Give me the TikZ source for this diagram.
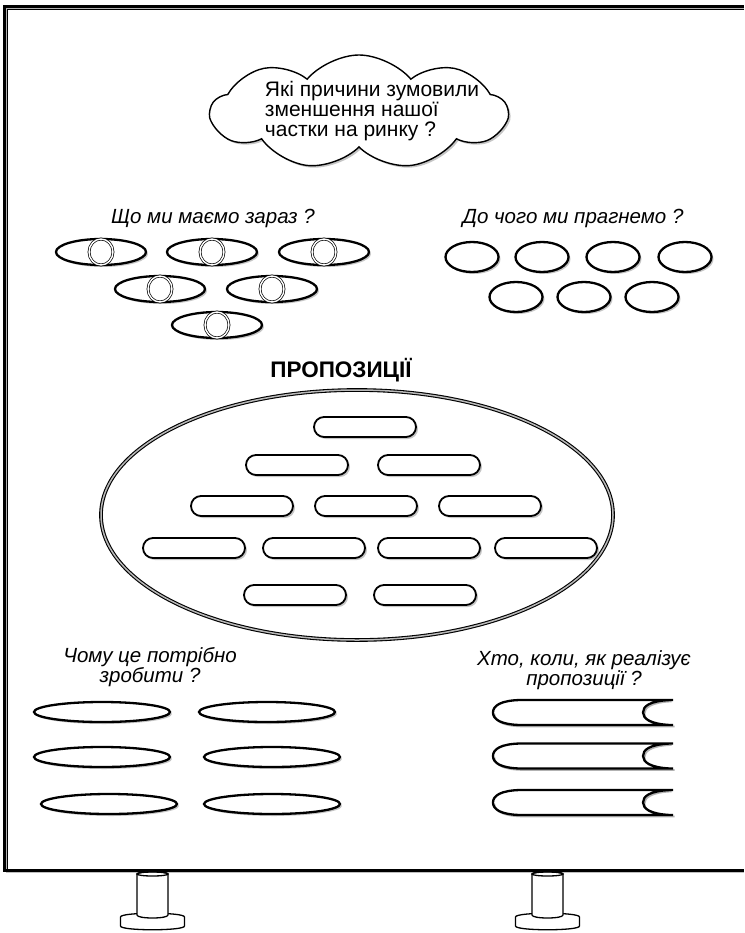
\documentclass[tikz,border=0pt]{standalone}
\usepackage{fontspec}
\setmainfont{Liberation Sans}
\usepackage{tikz}
\usetikzlibrary{shapes.geometric, shapes.misc, shapes.symbols, shadows}

% pen-nib shaped slot, #1 = left tip x, #2 = middle y
\newcommand{\nibslot}[2]{%
  \draw[gray!60, line width=1.6pt, shift={(1.5,1.5)}]
    (#1+177,#2-12.5) .. controls (#1+156,#2-11.5) and (#1+150,#2-6) .. (#1+150,#2)
      .. controls (#1+150,#2+6) and (#1+157,#2+11.5) .. (#1+177,#2+12.5)
    (#1,#2) .. controls (#1,#2+7) and (#1+8,#2+12) .. (#1+27,#2+12.5) -- (#1+180,#2+12.5);
  \draw[line width=2.3pt]
    (#1+180,#2-12.5) -- (#1+27,#2-12.5)
      .. controls (#1+8,#2-12) and (#1,#2-7) .. (#1,#2)
      .. controls (#1,#2+7) and (#1+8,#2+12) .. (#1+27,#2+12.5) -- (#1+180,#2+12.5)
    (#1+177,#2-12.5) .. controls (#1+156,#2-11.5) and (#1+150,#2-6) .. (#1+150,#2)
      .. controls (#1+150,#2+6) and (#1+157,#2+11.5) .. (#1+177,#2+12.5);
}

% one leg under the board, #1 = centre x
\newcommand{\boardleg}[1]{%
  \filldraw[fill=white, line width=1.3pt] (#1-32,917) -- (#1-32,926)
    .. controls (#1-32,931) and (#1+32,931) .. (#1+32,926) -- (#1+32,917)
    .. controls (#1+32,912) and (#1-32,912) .. cycle;
  \filldraw[fill=white, line width=1.3pt] (#1-15.5,874) -- (#1-15.5,915)
    .. controls (#1-15.5,919) and (#1+15.5,919) .. (#1+15.5,915) -- (#1+15.5,874)
    .. controls (#1+15.5,871) and (#1-15.5,871) .. cycle;
  \draw[line width=1.3pt] (#1,874) ellipse [x radius=15.5, y radius=2];
}

\begin{document}
\begin{tikzpicture}[
    x=1pt, y=-1pt,
    every node/.style={font=\fontsize{21}{20}\selectfont, align=center},
    heading/.style={font=\fontsize{20.5}{19}\selectfont\itshape},
    shade/.style={drop shadow={shadow xshift=2pt, shadow yshift=-2pt, fill=black!45}},
    eye/.style={ellipse, draw, line width=2.3pt, fill=white, shade,
                minimum width=90pt, minimum height=26pt, inner sep=0pt},
    iris/.style={ellipse, draw, double, line width=0.7pt, double distance=1.4pt,
                 minimum width=24pt, minimum height=26pt, inner sep=0pt},
    goal/.style={ellipse, draw, line width=2.3pt, fill=white, shade,
                 minimum width=53pt, minimum height=30pt, inner sep=0pt},
    idea/.style={rounded rectangle, draw, line width=1.8pt, fill=white, shade,
                 minimum width=102pt, minimum height=20pt, inner sep=0pt},
    reason/.style={ellipse, draw, line width=2.3pt, fill=white, shade,
                   minimum width=136pt, minimum height=20pt, inner sep=0pt}
]
\useasboundingbox (0,0) rectangle (744,933);

% --- Board ---
\draw[line width=3pt] (744,6.5) -- (4.5,6.5) -- (4.5,870.5) -- (744,870.5);
\draw[gray!60, line width=1pt] (744,8.6) -- (6.6,8.6) -- (6.6,869);
\draw[line width=0.8pt] (744,9.6) -- (7.6,9.6) -- (7.6,869);
\draw[gray!50, line width=1pt] (6,872.5) -- (744,872.5);
\boardleg{152.5}
\boardleg{547.5}

% --- Question cloud ---
\node[cloud, cloud puffs=9, cloud puff arc=100, aspect=2.6, draw, line width=1.4pt, fill=white, shade,
      minimum width=296pt, minimum height=114pt] (cloud) at (359,112) {};
\node[align=left] (question) at (372,111) {Які причини зумовили\\зменшення нашої\\частки на ринку ?};

% --- What we have ---
\node[heading] (havetitle) at (213,218) {Що ми маємо зараз ?};
\node[eye] (have1) at (101,252) {};  \node[iris] (iris1) at (have1) {};
\node[eye] (have2) at (212,252) {};  \node[iris] (iris2) at (have2) {};
\node[eye] (have3) at (324,252) {};  \node[iris] (iris3) at (have3) {};
\node[eye] (have4) at (160,289) {};  \node[iris] (iris4) at (have4) {};
\node[eye] (have5) at (272,289) {};  \node[iris] (iris5) at (have5) {};
\node[eye] (have6) at (217,325) {};  \node[iris] (iris6) at (have6) {};

% --- What we aim at ---
\node[heading] (wanttitle) at (573,218) {До чого ми прагнемо ?};
\node[goal] (want1) at (472,257) {};
\node[goal] (want2) at (542,257) {};
\node[goal] (want3) at (613,257) {};
\node[goal] (want4) at (685,257) {};
\node[goal] (want5) at (516,297) {};
\node[goal] (want6) at (584,297) {};
\node[goal] (want7) at (652,297) {};

% --- Proposals ---
\node[font=\fontsize{22.5}{22}\selectfont\bfseries] (proptitle) at (341,370) {ПРОПОЗИЦІЇ};
\node[ellipse, draw, double=gray!55, line width=1.1pt, double distance=1.5pt,
      minimum width=512pt, minimum height=250pt] (props) at (357,515) {};
\node[idea] (prop1) at (365,427) {};
\node[idea] (prop2) at (297,465) {};
\node[idea] (prop3) at (429,465) {};
\node[idea] (prop4) at (242,506) {};
\node[idea] (prop5) at (366,506) {};
\node[idea] (prop6) at (490,506) {};
\node[idea] (prop7) at (194,548) {};
\node[idea] (prop8) at (314,548) {};
\node[idea] (prop9) at (429,548) {};
\node[idea] (prop10) at (546,548) {};
\node[idea] (prop11) at (295,595) {};
\node[idea] (prop12) at (425,595) {};

% --- Why ---
\node[heading] (whytitle) at (150,667) {Чому це потрібно\\зробити ?};
\node[reason] (why1) at (102,712) {};
\node[reason] (why2) at (267,712) {};
\node[reason] (why3) at (102,757) {};
\node[reason] (why4) at (272,757) {};
\node[reason] (why5) at (109,804) {};
\node[reason] (why6) at (272,804) {};

% --- Who, when, how ---
\node[heading] (whotitle) at (584,670) {Хто, коли, як реалізує\\пропозиції ?};
\nibslot{493}{712.5}
\nibslot{493}{756}
\nibslot{493}{802.5}

\end{tikzpicture}
\end{document}
